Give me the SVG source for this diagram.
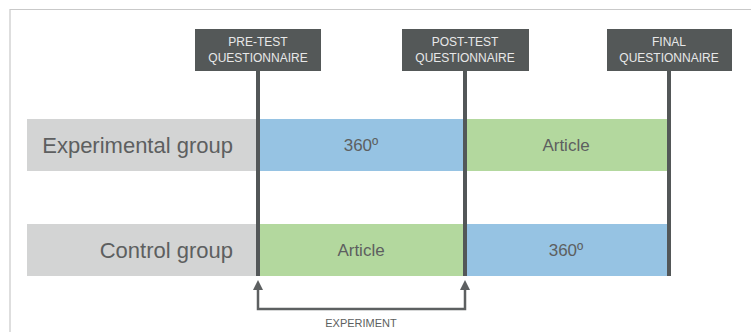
<svg xmlns="http://www.w3.org/2000/svg" width="751" height="332" viewBox="0 0 751 332">
<defs>
<style>
.frame{stroke:#c9c9c9;stroke-width:1.2;fill:none}
.lbl{fill:#d3d4d4}
.blue{fill:#96c3e3}
.green{fill:#b3d89e}
.vline{stroke:#535758;stroke-width:4}
.qbox{fill:#545858}
.qtext{font-family:"Liberation Sans",Arial,sans-serif;font-size:12px;fill:#e8e8e8;text-anchor:middle}
.grp{font-family:"Liberation Sans",Arial,sans-serif;font-size:22px;fill:#5d5f60;text-anchor:end}
.cell{font-family:"Liberation Sans",Arial,sans-serif;font-size:17px;fill:#5d5f60;text-anchor:middle}
.conn{stroke:#5d6061;stroke-width:2.5;fill:none}
.exp{font-family:"Liberation Sans",Arial,sans-serif;font-size:11px;fill:#5d5f60;text-anchor:middle}
</style>
<marker id="ah" viewBox="0 0 10 10" refX="6" refY="5" markerWidth="10" markerHeight="10" markerUnits="userSpaceOnUse" orient="auto-start-reverse">
<path d="M0,0 L10,5 L0,10 Z" fill="#5d6061"/>
</marker>
</defs>
<path class="frame" d="M10,332 V9.5 H751"/>
<g id="experimental-group">
<rect class="lbl" x="27" y="119" width="231" height="52"/>
<text class="grp" x="233" y="153">Experimental group</text>
</g>
<g id="control-group">
<rect class="lbl" x="27" y="224" width="231" height="52"/>
<text class="grp" x="233" y="258">Control group</text>
</g>
<g id="exp-360">
<rect class="blue" x="258" y="119" width="206" height="52"/>
<text class="cell" x="361" y="151">360º</text>
</g>
<g id="exp-article">
<rect class="green" x="464" y="119" width="205" height="52"/>
<text class="cell" x="566" y="151">Article</text>
</g>
<g id="ctrl-article">
<rect class="green" x="258" y="224" width="206" height="52"/>
<text class="cell" x="361" y="256">Article</text>
</g>
<g id="ctrl-360">
<rect class="blue" x="464" y="224" width="205" height="52"/>
<text class="cell" x="566" y="256">360º</text>
</g>
<g id="pre-test">
<rect class="qbox" x="195" y="29" width="126" height="42"/>
<text class="qtext" x="258" y="46">PRE-TEST</text>
<text class="qtext" x="258" y="62">QUESTIONNAIRE</text>
<line class="vline" x1="258" y1="71" x2="258" y2="276"/>
</g>
<g id="post-test">
<rect class="qbox" x="402" y="29" width="127" height="42"/>
<text class="qtext" x="465" y="46">POST-TEST</text>
<text class="qtext" x="465" y="62">QUESTIONNAIRE</text>
<line class="vline" x1="465" y1="71" x2="465" y2="276"/>
</g>
<g id="final">
<rect class="qbox" x="607" y="29" width="125" height="42"/>
<text class="qtext" x="669" y="46">FINAL</text>
<text class="qtext" x="669" y="62">QUESTIONNAIRE</text>
<line class="vline" x1="669" y1="71" x2="669" y2="276"/>
</g>
<g id="connectors">
<path class="conn" d="M258,284 V309 H465 V284" marker-start="url(#ah)" marker-end="url(#ah)"/>
<text class="exp" x="361" y="327">EXPERIMENT</text>
</g>
</svg>
